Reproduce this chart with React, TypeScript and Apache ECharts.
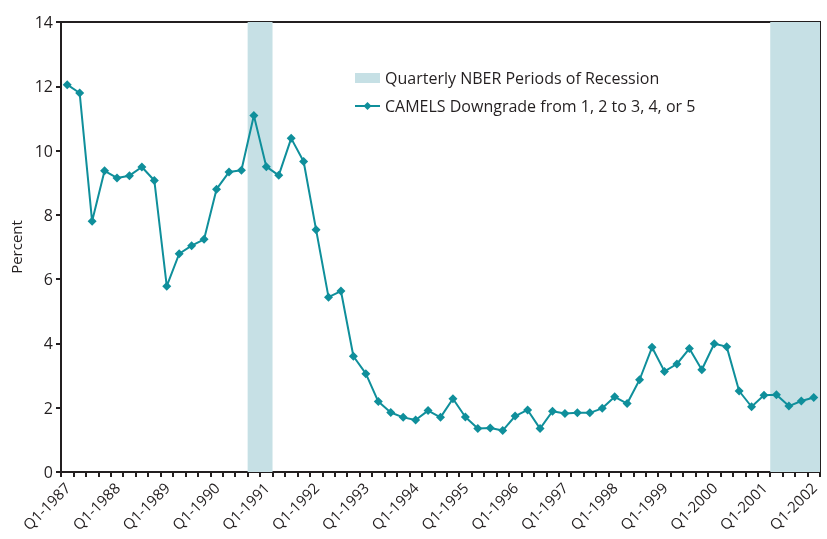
import React, { useEffect, useRef } from "react";
import * as echarts from "echarts";

const years = [1987, 1988, 1989, 1990, 1991, 1992, 1993, 1994, 1995, 1996, 1997, 1998, 1999, 2000, 2001, 2002];
const quarters = ["Q1", "Q2", "Q3", "Q4"];
const categories: string[] = [];
years.forEach((y) => quarters.forEach((q) => categories.push(`${q}-${y}`)));
categories.splice(61);

const camels = [
  12.05, 11.79, 7.8, 9.37, 9.15, 9.22, 9.49, 9.07,
  5.78, 6.79, 7.04, 7.24, 8.8, 9.33, 9.39, 11.09,
  9.5, 9.23, 10.38, 9.66, 7.54, 5.44, 5.63, 3.6,
  3.06, 2.19, 1.85, 1.7, 1.62, 1.91, 1.7, 2.28,
  1.71, 1.35, 1.37, 1.29, 1.74, 1.93, 1.35, 1.89,
  1.82, 1.84, 1.84, 1.98, 2.34, 2.13, 2.87, 3.88,
  3.13, 3.36, 3.84, 3.18, 3.99, 3.9, 2.52, 2.03,
  2.39, 2.4, 2.05, 2.21, 2.32,
];

// recession periods: [first quarter, last quarter]
const recessionStarts = ["Q4-1990", "Q2-2001"];
const recessionEnds = ["Q1-1991", "Q1-2002"];
const yTicks = { min: 0, max: 14, interval: 2 };

const barName = "Quarterly NBER Periods of Recession";
const lineName = "CAMELS Downgrade from 1, 2 to 3, 4, or 5";

const FONT = "'Open Sans', sans-serif";
const DARK = "#231f20";
const TEAL = "#0f8f9b";
const SHADE = "#c6e0e5";

export default function App() {
  const ref = useRef<HTMLDivElement>(null);
  useEffect(() => {
    if (!ref.current) return;
    const chart = echarts.init(ref.current, undefined, { renderer: "svg" });
    const recessionData = recessionStarts.map((s, i) => [
      categories.indexOf(s),
      categories.indexOf(recessionEnds[i]),
    ]);
    chart.setOption({
      animation: false,
      textStyle: { fontFamily: FONT },
      grid: {
        left: 58,
        top: 22,
        right: 7,
        bottom: 67,
        show: true,
        borderColor: DARK,
        borderWidth: 2,
        containLabel: false,
      },
      legend: {
        orient: "vertical",
        left: 349,
        top: 63,
        itemWidth: 25,
        itemHeight: 10,
        itemGap: 8,
        textStyle: { fontFamily: FONT, fontSize: 16, color: DARK, lineHeight: 20 },
        data: [
          { name: barName, icon: "rect", itemStyle: { color: SHADE } },
          { name: lineName },
        ],
      },
      xAxis: {
        type: "category",
        data: categories,
        boundaryGap: true,
        axisLine: { show: true, lineStyle: { color: DARK, width: 2 } },
        axisTick: { show: true, interval: 0, length: 5, inside: false, lineStyle: { color: DARK, width: 2 } },
        axisLabel: {
          interval: 3,
          rotate: 45,
          fontSize: 15,
          color: DARK,
          fontFamily: FONT,
          margin: 13,
        },
        splitLine: { show: false },
      },
      yAxis: {
        type: "value",
        min: yTicks.min,
        max: yTicks.max,
        interval: yTicks.interval,
        name: "Percent",
        nameLocation: "middle",
        nameRotate: 90,
        nameGap: 38,
        nameTextStyle: { fontSize: 15, color: DARK, fontFamily: FONT },
        axisLine: { show: true, lineStyle: { color: DARK, width: 2 } },
        axisTick: { show: true, length: 5, lineStyle: { color: DARK, width: 2 } },
        axisLabel: { fontSize: 16, color: DARK, fontFamily: FONT, margin: 8 },
        splitLine: { show: false },
      },
      series: [
        {
          name: barName,
          type: "custom",
          data: recessionData,
          encode: { x: [0, 1] },
          itemStyle: { color: SHADE },
          silent: true,
          z: 1,
          renderItem: (params: any, api: any) => {
            const s = api.value(0);
            const e = api.value(1);
            const w = api.size([1, 0])[0];
            const p0 = api.coord([s, yTicks.max]);
            const p1 = api.coord([e, yTicks.min]);
            return {
              type: "rect",
              shape: {
                x: p0[0] - w / 2,
                y: p0[1],
                width: p1[0] - p0[0] + w,
                height: p1[1] - p0[1],
              },
              style: { fill: SHADE },
            };
          },
        },
        {
          name: lineName,
          type: "line",
          data: camels,
          symbol: "diamond",
          symbolSize: 9,
          showAllSymbol: true,
          lineStyle: { color: TEAL, width: 2 },
          itemStyle: { color: TEAL },
          z: 3,
        },
      ],
    });
    return () => chart.dispose();
  }, []);
  return <div ref={ref} style={{ position: "fixed", left: 0, top: 0, width: 827, height: 539 }} />;
}
